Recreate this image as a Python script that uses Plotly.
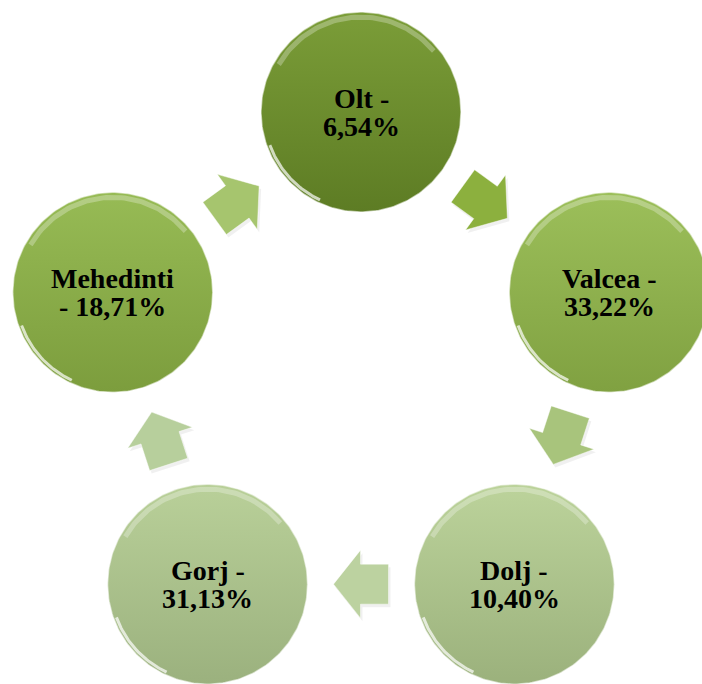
import numpy as np
import plotly.graph_objects as go

# ---- data ----
regions = ["Olt", "Valcea", "Dolj", "Gorj", "Mehedinti"]
shares = [6.54, 33.22, 10.40, 31.13, 18.71]

# ---- styles ----
circle_top = ["#7b9d38", "#9cbf5a", "#bcd39b", "#b9d099", "#97bb55"]
circle_bot = ["#5d7c24", "#80a141", "#9bb17c", "#9bb17e", "#7c9d3d"]
arrow_col = ["#8cb03e", "#a8c47c", "#bcd2a0", "#b7cf9c", "#a6c56e"]

W, H = 702, 684
CX, CY = 361, 373        # cycle centre (pixels, from top)
R_CYC, R_CIR = 261, 100

fig = go.Figure()

def to_y(py):
    return H - py

n = len(regions)
angles = [np.deg2rad(-90 + 72 * i) for i in range(n)]
centers = [(CX + R_CYC * np.cos(a), CY + R_CYC * np.sin(a)) for a in angles]

# arrows
L, HL, SW, HW = 55, 27, 40, 68
local = np.array([(-L / 2, -SW / 2), (L / 2 - HL, -SW / 2), (L / 2 - HL, -HW / 2),
                  (L / 2, 0), (L / 2 - HL, HW / 2), (L / 2 - HL, SW / 2), (-L / 2, SW / 2),
                  (-L / 2, -SW / 2)])
for i in range(n):
    (x0, y0), (x1, y1) = centers[i], centers[(i + 1) % n]
    mx, my = (x0 + x1) / 2, (y0 + y1) / 2
    d = np.array([x1 - x0, y1 - y0]); d /= np.linalg.norm(d)
    p = np.array([-d[1], d[0]])
    pts = np.array([mx, my]) + local[:, :1] * d + local[:, 1:] * p
    # soft shadow
    fig.add_trace(go.Scatter(x=pts[:, 0] + 2, y=to_y(pts[:, 1] + 3), fill="toself", mode="lines",
                             fillcolor="rgba(0,0,0,0.06)", line=dict(width=0),
                             hoverinfo="skip", showlegend=False))
    fig.add_trace(go.Scatter(x=pts[:, 0], y=to_y(pts[:, 1]), fill="toself", mode="lines",
                             fillcolor=arrow_col[i], line=dict(color="rgba(255,255,255,0.45)", width=1),
                             hoverinfo="skip", showlegend=False))

# circles
t = np.linspace(0, 2 * np.pi, 240)
for i in range(n):
    cx, cy = centers[i]
    xs = cx + R_CIR * np.cos(t)
    ys = to_y(cy) + R_CIR * np.sin(t)
    fig.add_trace(go.Scatter(x=xs, y=ys, fill="toself", mode="lines",
                             fillgradient=dict(type="vertical",
                                               colorscale=[[0, circle_bot[i]], [1, circle_top[i]]]),
                             line=dict(color="rgba(255,255,255,0.55)", width=1.5),
                             hoverinfo="skip", showlegend=False))
    # glossy highlights
    ta = np.linspace(np.deg2rad(40), np.deg2rad(150), 60)
    fig.add_trace(go.Scatter(x=cx + (R_CIR - 5) * np.cos(ta), y=to_y(cy) + (R_CIR - 5) * np.sin(ta),
                             mode="lines", line=dict(color="rgba(255,255,255,0.28)", width=5),
                             hoverinfo="skip", showlegend=False))
    tb = np.linspace(np.deg2rad(200), np.deg2rad(245), 40)
    fig.add_trace(go.Scatter(x=cx + (R_CIR - 3) * np.cos(tb), y=to_y(cy) + (R_CIR - 3) * np.sin(tb),
                             mode="lines", line=dict(color="rgba(255,255,255,0.7)", width=3),
                             hoverinfo="skip", showlegend=False))

    name = regions[i]
    pct = f"{shares[i]:.2f}".replace(".", ",") + "%"
    if len(name) > 8:
        l1, l2 = name, "- " + pct
    else:
        l1, l2 = name + " -", pct
    for k, txt in enumerate([l1, l2]):
        fig.add_annotation(x=cx, y=to_y(cy - 14 + 28 * k), text=f"<b>{txt}</b>", showarrow=False,
                           font=dict(family="Liberation Serif", size=28, color="black"),
                           xanchor="center", yanchor="middle")

fig.update_layout(width=W, height=H, margin=dict(l=0, r=0, t=0, b=0),
                  paper_bgcolor="white", plot_bgcolor="white",
                  xaxis=dict(range=[0, W], visible=False, fixedrange=True),
                  yaxis=dict(range=[0, H], visible=False, fixedrange=True))
fig.write_html("out.html", config={"displayModeBar": False},
               post_script="document.body.style.margin='0';document.body.style.overflow='hidden';")
